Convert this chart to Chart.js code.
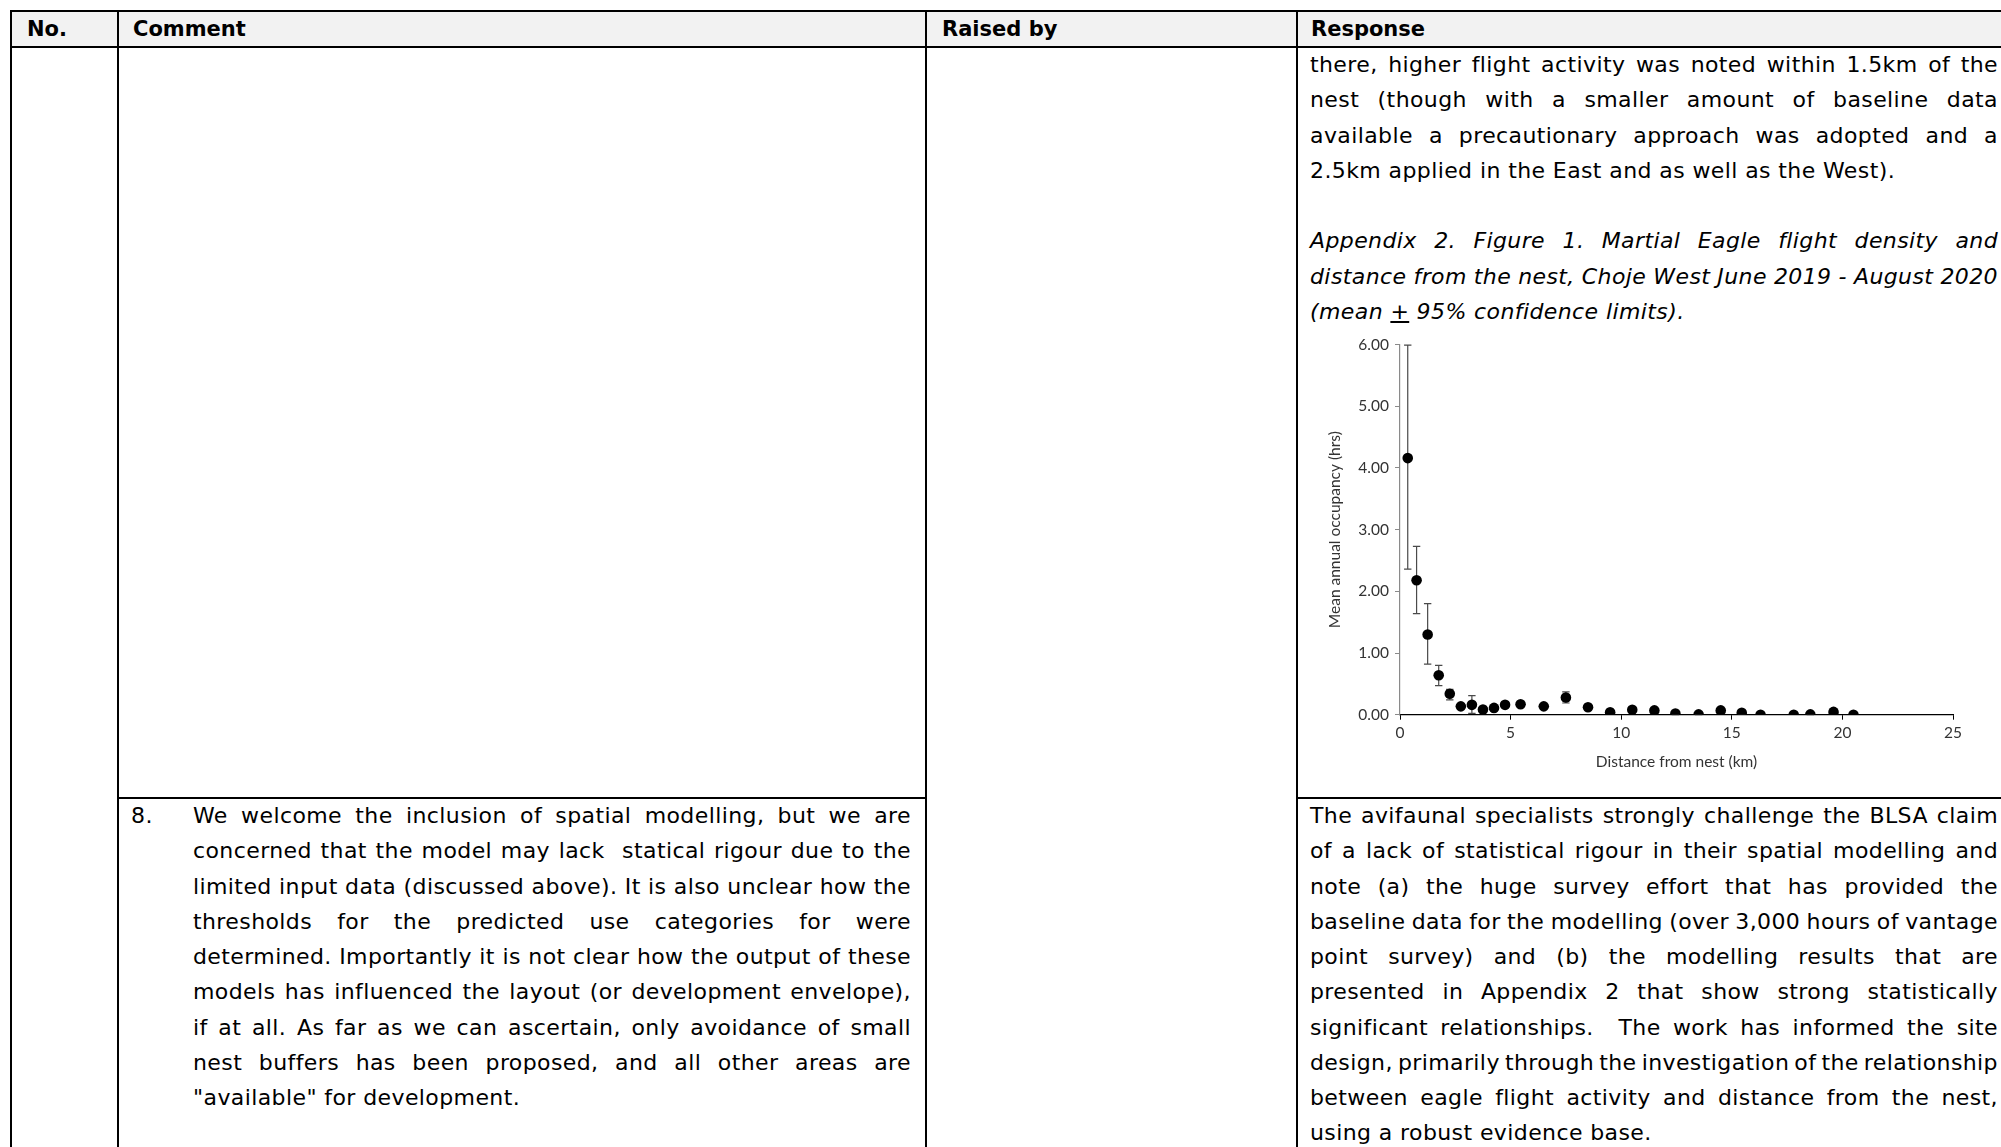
<!DOCTYPE html>
<html>
<head>
<meta charset="utf-8">
<script src="https://cdn.jsdelivr.net/npm/chart.js@4"></script>
<style>
  html, body { margin:0; padding:0; background:#fff; }
  body { width:2001px; height:1147px; position:relative; overflow:hidden; font-family:"DejaVu Sans", sans-serif; color:#000; }
  .hbg { position:absolute; left:11px; top:11px; width:1990px; height:36px; background:#f2f2f2; }
  .ln { position:absolute; background:#000; }
  .hd { position:absolute; top:11px; height:36px; line-height:36px; font-weight:bold; font-size:21px; letter-spacing:0px; white-space:nowrap; }
  .blk { position:absolute; font-size:22px; letter-spacing:0.4px; line-height:35.25px; }
  .blk div { height:35.25px; white-space:pre; overflow:visible; }
  .blk span { display:inline-block; transform-origin:left center; }
  .it { font-style:italic; }
  #chartBox { position:absolute; left:1310px; top:325px; width:680px; height:455px; }
</style>
</head>
<body>
<div class="hbg"></div>

<!-- table rules -->
<div class="ln" style="left:11px;top:10px;width:1990px;height:1.6px"></div>
<div class="ln" style="left:11px;top:46px;width:1990px;height:1.6px"></div>
<div class="ln" style="left:10px;top:10px;width:1.6px;height:1137px"></div>
<div class="ln" style="left:117px;top:10px;width:1.6px;height:1137px"></div>
<div class="ln" style="left:925px;top:10px;width:1.6px;height:1137px"></div>
<div class="ln" style="left:1296px;top:10px;width:1.6px;height:1137px"></div>
<div class="ln" style="left:117px;top:797px;width:809px;height:1.6px"></div>
<div class="ln" style="left:1296px;top:797px;width:705px;height:1.6px"></div>

<!-- headers -->
<div class="hd" style="left:27px">No.</div>
<div class="hd" style="left:133px">Comment</div>
<div class="hd" style="left:942px">Raised by</div>
<div class="hd" style="left:1311px">Response</div>

<!-- response, top block -->
<div class="blk" style="left:1310px;top:47px;width:688px">
  <div class="jl">there, higher flight activity was noted within 1.5km of the</div>
  <div class="jl">nest (though with a smaller amount of baseline data</div>
  <div class="jl">available a precautionary approach was adopted and a</div>
  <div class="ll">2.5km applied in the East and as well as the West).</div>
  <div></div>
  <div class="jl it">Appendix 2. Figure 1. Martial Eagle flight density and</div>
  <div class="jl it">distance from the nest, Choje West June 2019 - August 2020</div>
  <div class="ll it">(mean <u>+</u> 95% confidence limits).</div>
</div>

<!-- row 8 comment -->
<div class="blk" style="left:131px;top:798px;width:50px"><div>8.</div></div>
<div class="blk" style="left:193px;top:798px;width:718px">
  <div class="jl">We welcome the inclusion of spatial modelling, but we are</div>
  <div class="jl">concerned that the model may lack  statical rigour due to the</div>
  <div class="jl">limited input data (discussed above). It is also unclear how the</div>
  <div class="jl">thresholds for the predicted use categories for were</div>
  <div class="jl">determined. Importantly it is not clear how the output of these</div>
  <div class="jl">models has influenced the layout (or development envelope),</div>
  <div class="jl">if at all. As far as we can ascertain, only avoidance of small</div>
  <div class="jl">nest buffers has been proposed, and all other areas are</div>
  <div class="ll">"available" for development.</div>
</div>

<!-- row 8 response -->
<div class="blk" style="left:1310px;top:798px;width:688px">
  <div class="jl">The avifaunal specialists strongly challenge the BLSA claim</div>
  <div class="jl">of a lack of statistical rigour in their spatial modelling and</div>
  <div class="jl">note (a) the huge survey effort that has provided the</div>
  <div class="jl">baseline data for the modelling (over 3,000 hours of vantage</div>
  <div class="jl">point survey) and (b) the modelling results that are</div>
  <div class="jl">presented in Appendix 2 that show strong statistically</div>
  <div class="jl">significant relationships.  The work has informed the site</div>
  <div class="jl">design, primarily through the investigation of the relationship</div>
  <div class="jl">between eagle flight activity and distance from the nest,</div>
  <div class="ll">using a robust evidence base.</div>
</div>

<div id="chartBox"><canvas id="c" width="680" height="455"></canvas></div>

<script>
// ---- data ----
const distanceKm    = [0.35, 0.75, 1.25, 1.75, 2.25, 2.75, 3.25, 3.75, 4.25, 4.75, 5.45, 6.5, 7.5, 8.5, 9.5, 10.5, 11.5, 12.45, 13.5, 14.5, 15.45, 16.3, 17.8, 18.55, 19.6, 20.5];
const meanOccupancy = [4.16, 2.18, 1.30, 0.64, 0.34, 0.135, 0.16, 0.085, 0.11, 0.16, 0.17, 0.135, 0.28, 0.12, 0.04, 0.08, 0.07, 0.02, 0.005, 0.07, 0.03, 0.0, 0.0, 0.005, 0.045, 0.0];
const lowerCL       = [2.36, 1.64, 0.82, 0.47, 0.24, 0.10, 0.02, 0.06, 0.08, 0.12, 0.14, 0.11, 0.19, 0.09, 0.02, 0.05, 0.05, 0.0, 0.0, 0.04, 0.01, 0.0, 0.0, 0.0, 0.02, 0.0];
const upperCL       = [5.99, 2.73, 1.80, 0.80, 0.41, 0.17, 0.31, 0.11, 0.14, 0.20, 0.20, 0.16, 0.37, 0.15, 0.06, 0.11, 0.09, 0.04, 0.01, 0.10, 0.05, 0.0, 0.0, 0.01, 0.07, 0.0];
const xTitle = 'Distance from nest (km)';
const yTitle = 'Mean annual occupancy (hrs)';

// ---- justify text lines ----
document.querySelectorAll('.blk div').forEach(d => {
  if (!d.classList.contains('jl')) return;
  const target = d.parentElement.clientWidth;
  const sp = document.createElement('span');
  sp.innerHTML = d.innerHTML; d.innerHTML = ''; d.appendChild(sp);
  const nat = sp.getBoundingClientRect().width;
  const nSp = (sp.textContent.match(/ /g) || []).length;
  let ws = nSp ? (target - nat) / nSp : 0;
  if (ws < -2.5) {
    ws = -2.5;
    sp.style.wordSpacing = ws + 'px';
    const w2 = sp.getBoundingClientRect().width;
    sp.style.transform = 'scaleX(' + (target / w2) + ')';
  } else {
    sp.style.wordSpacing = ws + 'px';
  }
});

// ---- error bar plugin ----
const errorBars = {
  id: 'errorBars',
  beforeDatasetsDraw(chart) {
    const {ctx, scales: {x, y}} = chart;
    ctx.save();
    ctx.strokeStyle = '#4a4a4a';
    ctx.lineWidth = 1.2;
    for (let i = 0; i < distanceKm.length; i++) {
      const px = x.getPixelForValue(distanceKm[i]);
      const yl = y.getPixelForValue(lowerCL[i]);
      const yu = y.getPixelForValue(upperCL[i]);
      if (Math.abs(yl - yu) < 0.5) continue;
      ctx.beginPath();
      ctx.moveTo(px, yl); ctx.lineTo(px, yu);
      ctx.moveTo(px - 3.7, yl); ctx.lineTo(px + 3.7, yl);
      ctx.moveTo(px - 3.7, yu); ctx.lineTo(px + 3.7, yu);
      ctx.stroke();
    }
    ctx.restore();
  }
};

const fontFam = 'Lato, "Open Sans", sans-serif';
new Chart(document.getElementById('c'), {
  type: 'scatter',
  data: {
    datasets: [{
      data: distanceKm.map((d, i) => ({x: d, y: meanOccupancy[i]})),
      pointRadius: 5.3,
      pointBackgroundColor: '#000',
      pointBorderColor: '#000',
      pointBorderWidth: 0,
      showLine: false
    }]
  },
  options: {
    responsive: false,
    animation: false,
    devicePixelRatio: 1,
    layout: { padding: { left: 0, top: 19.6, right: 37, bottom: 0 } },
    plugins: { legend: { display: false }, tooltip: { enabled: false } },
    scales: {
      x: {
        type: 'linear', min: 0, max: 25,
        afterFit: s => { s.height = 65.3; },
        ticks: { stepSize: 5, font: { family: fontFam, size: 15.5 }, color: '#333', padding: 3.5, maxRotation: 0 },
        grid: { drawOnChartArea: false, drawTicks: true, tickLength: 5, tickColor: '#000', tickWidth: 1 },
        border: { color: '#000', width: 1.2 },
        title: { display: true, text: xTitle, font: { family: fontFam, size: 15.5 }, color: '#333', padding: { top: 0, bottom: 8.7 } }
      },
      y: {
        type: 'linear', min: 0, max: 6,
        afterFit: s => { s.width = 90; },
        ticks: { stepSize: 1, font: { family: fontFam, size: 15.5 }, color: '#333', padding: 6, callback: v => Number(v).toFixed(2) },
        grid: { drawOnChartArea: false, drawTicks: true, tickLength: 5, tickColor: '#8a8a8a', tickWidth: 1 },
        border: { color: '#8a8a8a', width: 1.2 },
        title: { display: true, text: yTitle, font: { family: fontFam, size: 15.5 }, color: '#333', padding: { top: 15.7, bottom: 0 } }
      }
    }
  },
  plugins: [errorBars]
});
</script>
</body>
</html>
